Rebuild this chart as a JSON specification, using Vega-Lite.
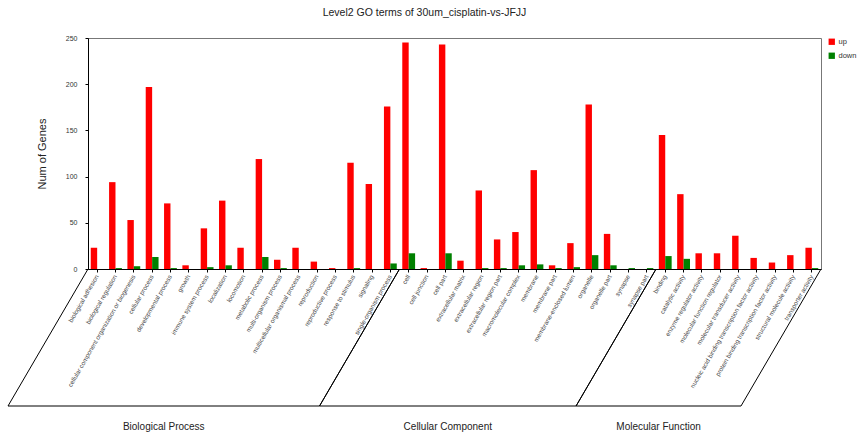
{
  "$schema": "https://vega.github.io/schema/vega-lite/v6.json",
  "autosize": "none",
  "width": 733,
  "height": 231,
  "padding": {"left": 88, "top": 38, "right": 38, "bottom": 167},
  "background": "white",
  "config": {
    "font": "Liberation Sans",
    "view": {"stroke": "#777", "strokeWidth": 1}
  },
  "title": {
    "text": "Level2 GO terms of 30um_cisplatin-vs-JFJJ",
    "fontSize": 10.5,
    "fontWeight": "normal",
    "color": "#222",
    "offset": 16,
    "dx": -30
  },
  "datasets": {
    "terms": [
      {"term": "biological adhesion", "up": 23, "down": 0},
      {"term": "biological regulation", "up": 94, "down": 1},
      {"term": "cellular component organization or biogenesis", "up": 53, "down": 3},
      {"term": "cellular process", "up": 197, "down": 13},
      {"term": "developmental process", "up": 71, "down": 1},
      {"term": "growth", "up": 4, "down": 0},
      {"term": "immune system process", "up": 44, "down": 2},
      {"term": "localization", "up": 74, "down": 4},
      {"term": "locomotion", "up": 23, "down": 0},
      {"term": "metabolic process", "up": 119, "down": 13},
      {"term": "multi-organism process", "up": 10, "down": 1},
      {"term": "multicellular organismal process", "up": 23, "down": 0},
      {"term": "reproduction", "up": 8, "down": 0},
      {"term": "reproductive process", "up": 1, "down": 0},
      {"term": "response to stimulus", "up": 115, "down": 1},
      {"term": "signaling", "up": 92, "down": 0},
      {"term": "single-organism process", "up": 176, "down": 6},
      {"term": "cell", "up": 245, "down": 17},
      {"term": "cell junction", "up": 1, "down": 0},
      {"term": "cell part", "up": 243, "down": 17},
      {"term": "extracellular matrix", "up": 9, "down": 0},
      {"term": "extracellular region", "up": 85, "down": 1},
      {"term": "extracellular region part", "up": 32, "down": 1},
      {"term": "macromolecular complex", "up": 40, "down": 4},
      {"term": "membrane", "up": 107, "down": 5},
      {"term": "membrane part", "up": 4, "down": 1},
      {"term": "membrane-enclosed lumen", "up": 28, "down": 2},
      {"term": "organelle", "up": 178, "down": 15},
      {"term": "organelle part", "up": 38, "down": 4},
      {"term": "synapse", "up": 0, "down": 1},
      {"term": "synapse part", "up": 0, "down": 1},
      {"term": "binding", "up": 145, "down": 14},
      {"term": "catalytic activity", "up": 81, "down": 11},
      {"term": "enzyme regulator activity", "up": 17, "down": 0},
      {"term": "molecular function regulator", "up": 17, "down": 0},
      {"term": "molecular transducer activity", "up": 36, "down": 0},
      {"term": "nucleic acid binding transcription factor activity", "up": 12, "down": 0},
      {"term": "protein binding transcription factor activity", "up": 7, "down": 0},
      {"term": "structural molecule activity", "up": 15, "down": 0},
      {"term": "transporter activity", "up": 23, "down": 1}
    ],
    "groups": [
      {"group": "Biological Process", "start": 0, "end": 17},
      {"group": "Cellular Component", "start": 17, "end": 31},
      {"group": "Molecular Function", "start": 31, "end": 40}
    ]
  },
  "layer": [
    {
      "data": {"name": "terms"},
      "transform": [{"fold": ["up", "down"], "as": ["direction", "genes"]}],
      "mark": {"type": "bar"},
      "encoding": {
        "x": {
          "field": "term",
          "type": "nominal",
          "sort": null,
          "scale": {"paddingInner": 0.3, "paddingOuter": 0.15},
          "axis": {
            "title": null,
            "labelAngle": -60,
            "labelFontSize": 6.3,
            "labelColor": "#444",
            "tickSize": 3,
            "tickColor": "#000",
            "domainColor": "#000",
            "labelPadding": 3,
            "labelLimit": 0,
            "labelOverlap": false
          }
        },
        "xOffset": {"field": "direction", "type": "nominal", "sort": ["up", "down"]},
        "y": {
          "field": "genes",
          "type": "quantitative",
          "scale": {"domain": [0, 250], "nice": false},
          "axis": {
            "title": "Num of Genes",
            "grid": false,
            "values": [0, 50, 100, 150, 200, 250],
            "tickSize": 3,
            "labelFontSize": 7,
            "labelColor": "#333",
            "titleFontSize": 11,
            "titleFontWeight": "normal",
            "titleColor": "#222",
            "domainColor": "#000",
            "tickColor": "#000",
            "labelPadding": 8,
            "titlePadding": 18
          }
        },
        "color": {
          "field": "direction",
          "type": "nominal",
          "scale": {"domain": ["up", "down"], "range": ["#FF0000", "#008000"]},
          "legend": {
            "title": null,
            "orient": "right",
            "symbolType": "square",
            "symbolStrokeWidth": 0,
            "labelFontSize": 7.5,
            "labelOffset": 3,
            "labelColor": "#333",
            "symbolSize": 40,
            "offset": 7,
            "rowPadding": 5,
            "padding": 0
          }
        }
      }
    },
    {
      "data": {"name": "groups"},
      "mark": {"type": "rule", "color": "#000", "strokeWidth": 1, "x2Offset": -80, "y2Offset": 137},
      "encoding": {
        "x": {"field": "start", "type": "quantitative", "scale": {"domain": [0, 40], "nice": false, "zero": false}, "axis": null},
        "x2": {"field": "start"},
        "y": {"datum": 0},
        "y2": {"datum": 0}
      }
    },
    {
      "data": {"name": "groups"},
      "mark": {"type": "rule", "color": "#000", "strokeWidth": 1, "x2Offset": -80, "y2Offset": 137},
      "encoding": {
        "x": {"field": "end", "type": "quantitative", "scale": {"domain": [0, 40], "nice": false, "zero": false}, "axis": null},
        "x2": {"field": "end"},
        "y": {"datum": 0},
        "y2": {"datum": 0}
      }
    },
    {
      "data": {"name": "groups"},
      "mark": {"type": "rule", "color": "#000", "strokeWidth": 1, "xOffset": -80, "x2Offset": -80, "yOffset": 137},
      "encoding": {
        "x": {"field": "start", "type": "quantitative", "scale": {"domain": [0, 40], "nice": false, "zero": false}, "axis": null},
        "x2": {"field": "end"},
        "y": {"datum": 0}
      }
    },
    {
      "data": {"name": "groups"},
      "transform": [{"calculate": "(datum.start + datum.end) / 2", "as": "mid"}],
      "mark": {"type": "text", "dx": -80, "dy": 158, "fontSize": 10, "color": "#222", "align": "center", "baseline": "middle"},
      "encoding": {
        "x": {"field": "mid", "type": "quantitative", "scale": {"domain": [0, 40], "nice": false, "zero": false}, "axis": null},
        "y": {"datum": 0},
        "text": {"field": "group"}
      }
    }
  ],
  "resolve": {"scale": {"x": "independent"}, "axis": {"x": "independent"}}
}
